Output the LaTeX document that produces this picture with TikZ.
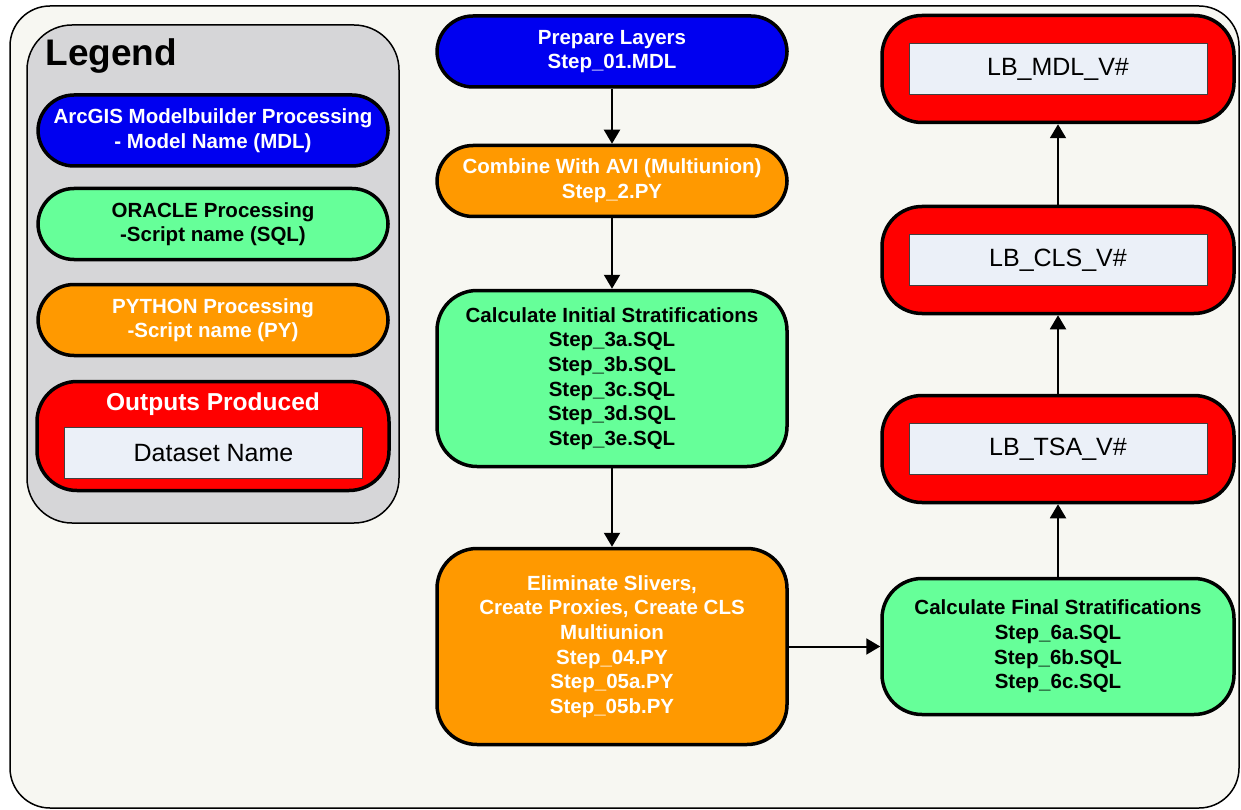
\documentclass[tikz,border=0pt]{standalone}
\usepackage{fontspec}
\setmainfont{Liberation Sans}
\usetikzlibrary{positioning}
\usetikzlibrary{arrows.meta}
\definecolor{mdlblue}{RGB}{0,0,240}
\definecolor{sqlgreen}{RGB}{102,255,153}
\definecolor{pyorange}{RGB}{255,153,0}
\definecolor{outred}{RGB}{255,0,0}
\definecolor{namefill}{RGB}{235,240,248}
\definecolor{legendgray}{RGB}{214,214,216}
\definecolor{paper}{RGB}{247,247,242}

\begin{document}
\begin{tikzpicture}[x=1pt, y=-1pt, >={Triangle[width=16pt,length=14pt]},
procnode/.style={draw=black, line width=3.5pt, align=center, minimum width=350pt, font=\bfseries\fontsize{20.5}{24.6}\selectfont},
mdlnode/.style={procnode, fill=mdlblue, text=white, rounded corners=36pt, minimum height=71pt},
pynode/.style={procnode, fill=pyorange, text=white},
sqlnode/.style={procnode, fill=sqlgreen, text=black},
outnode/.style={draw=black, fill=outred, line width=3.5pt, rounded corners=40pt, minimum width=352pt, minimum height=107pt},
namenode/.style={draw=black!75, fill=namefill, line width=0.8pt, minimum width=298pt, minimum height=51pt, font=\fontsize{25}{28}\selectfont},
flow/.style={->, line width=2pt}]
\useasboundingbox (0,0) rectangle (1241,810);
\draw[fill=paper, line width=1.5pt, rounded corners=40pt] (10,6) rectangle (1239,808);

% legend
\draw[fill=legendgray, line width=1.5pt, rounded corners=45pt] (27,25) rectangle (399,523);
\node[anchor=west, font=\bfseries\fontsize{37}{42}\selectfont] (legend) at (42,56) {Legend};
\node[mdlnode] (lmdl) at (213,130.5) {ArcGIS Modelbuilder Processing\\- Model Name (MDL)};
\node[sqlnode, rounded corners=36pt, minimum height=71pt] (lsql) at (213,224) {ORACLE Processing\\-Script name (SQL)};
\node[pynode, rounded corners=36pt, minimum height=71pt] (lpy) at (213,320) {PYTHON Processing\\-Script name (PY)};
\node[outnode, minimum height=109pt] (lout) at (213,436) {};
\node[font=\bfseries\fontsize{24.5}{28}\selectfont, text=white] (louttitle) at (213,404) {Outputs Produced};
\node[namenode] (lname) at (213.5,453) {Dataset Name};

% processing steps
\node[mdlnode] (prep) at (612,51.5) {Prepare Layers\\Step\_01.MDL};
\node[pynode, rounded corners=36pt, minimum height=71pt] (comb) at (612,181) {Combine With AVI (Multiunion)\\Step\_2.PY};
\node[sqlnode, rounded corners=40pt, minimum height=176pt] (calc) at (612,378.5) {Calculate Initial Stratifications\\Step\_3a.SQL\\Step\_3b.SQL\\Step\_3c.SQL\\Step\_3d.SQL\\Step\_3e.SQL};
\node[pynode, rounded corners=40pt, minimum height=196pt] (elim) at (612,646.5) {Eliminate Slivers,\\Create Proxies, Create CLS\\Multiunion\\Step\_04.PY\\Step\_05a.PY\\Step\_05b.PY};
\node[sqlnode, rounded corners=40pt, minimum width=352pt, minimum height=136pt] (final) at (1058,646.5) {Calculate Final Stratifications\\Step\_6a.SQL\\Step\_6b.SQL\\Step\_6c.SQL};

% outputs
\node[outnode] (tsa) at (1058,449) {};
\node[namenode] (tsaname) at (tsa) {LB\_TSA\_V\#};
\node[outnode] (cls) at (1058,260) {};
\node[namenode] (clsname) at (cls) {LB\_CLS\_V\#};
\node[outnode] (mdl) at (1058,69) {};
\node[namenode] (mdlname) at (mdl) {LB\_MDL\_V\#};

\draw[flow] (prep) -- (comb);
\draw[flow] (comb) -- (calc);
\draw[flow] (calc) -- (elim);
\draw[flow] (elim) -- (final);
\draw[flow] (final) -- (tsa);
\draw[flow] (tsa) -- (cls);
\draw[flow] (cls) -- (mdl);
\end{tikzpicture}
\end{document}
